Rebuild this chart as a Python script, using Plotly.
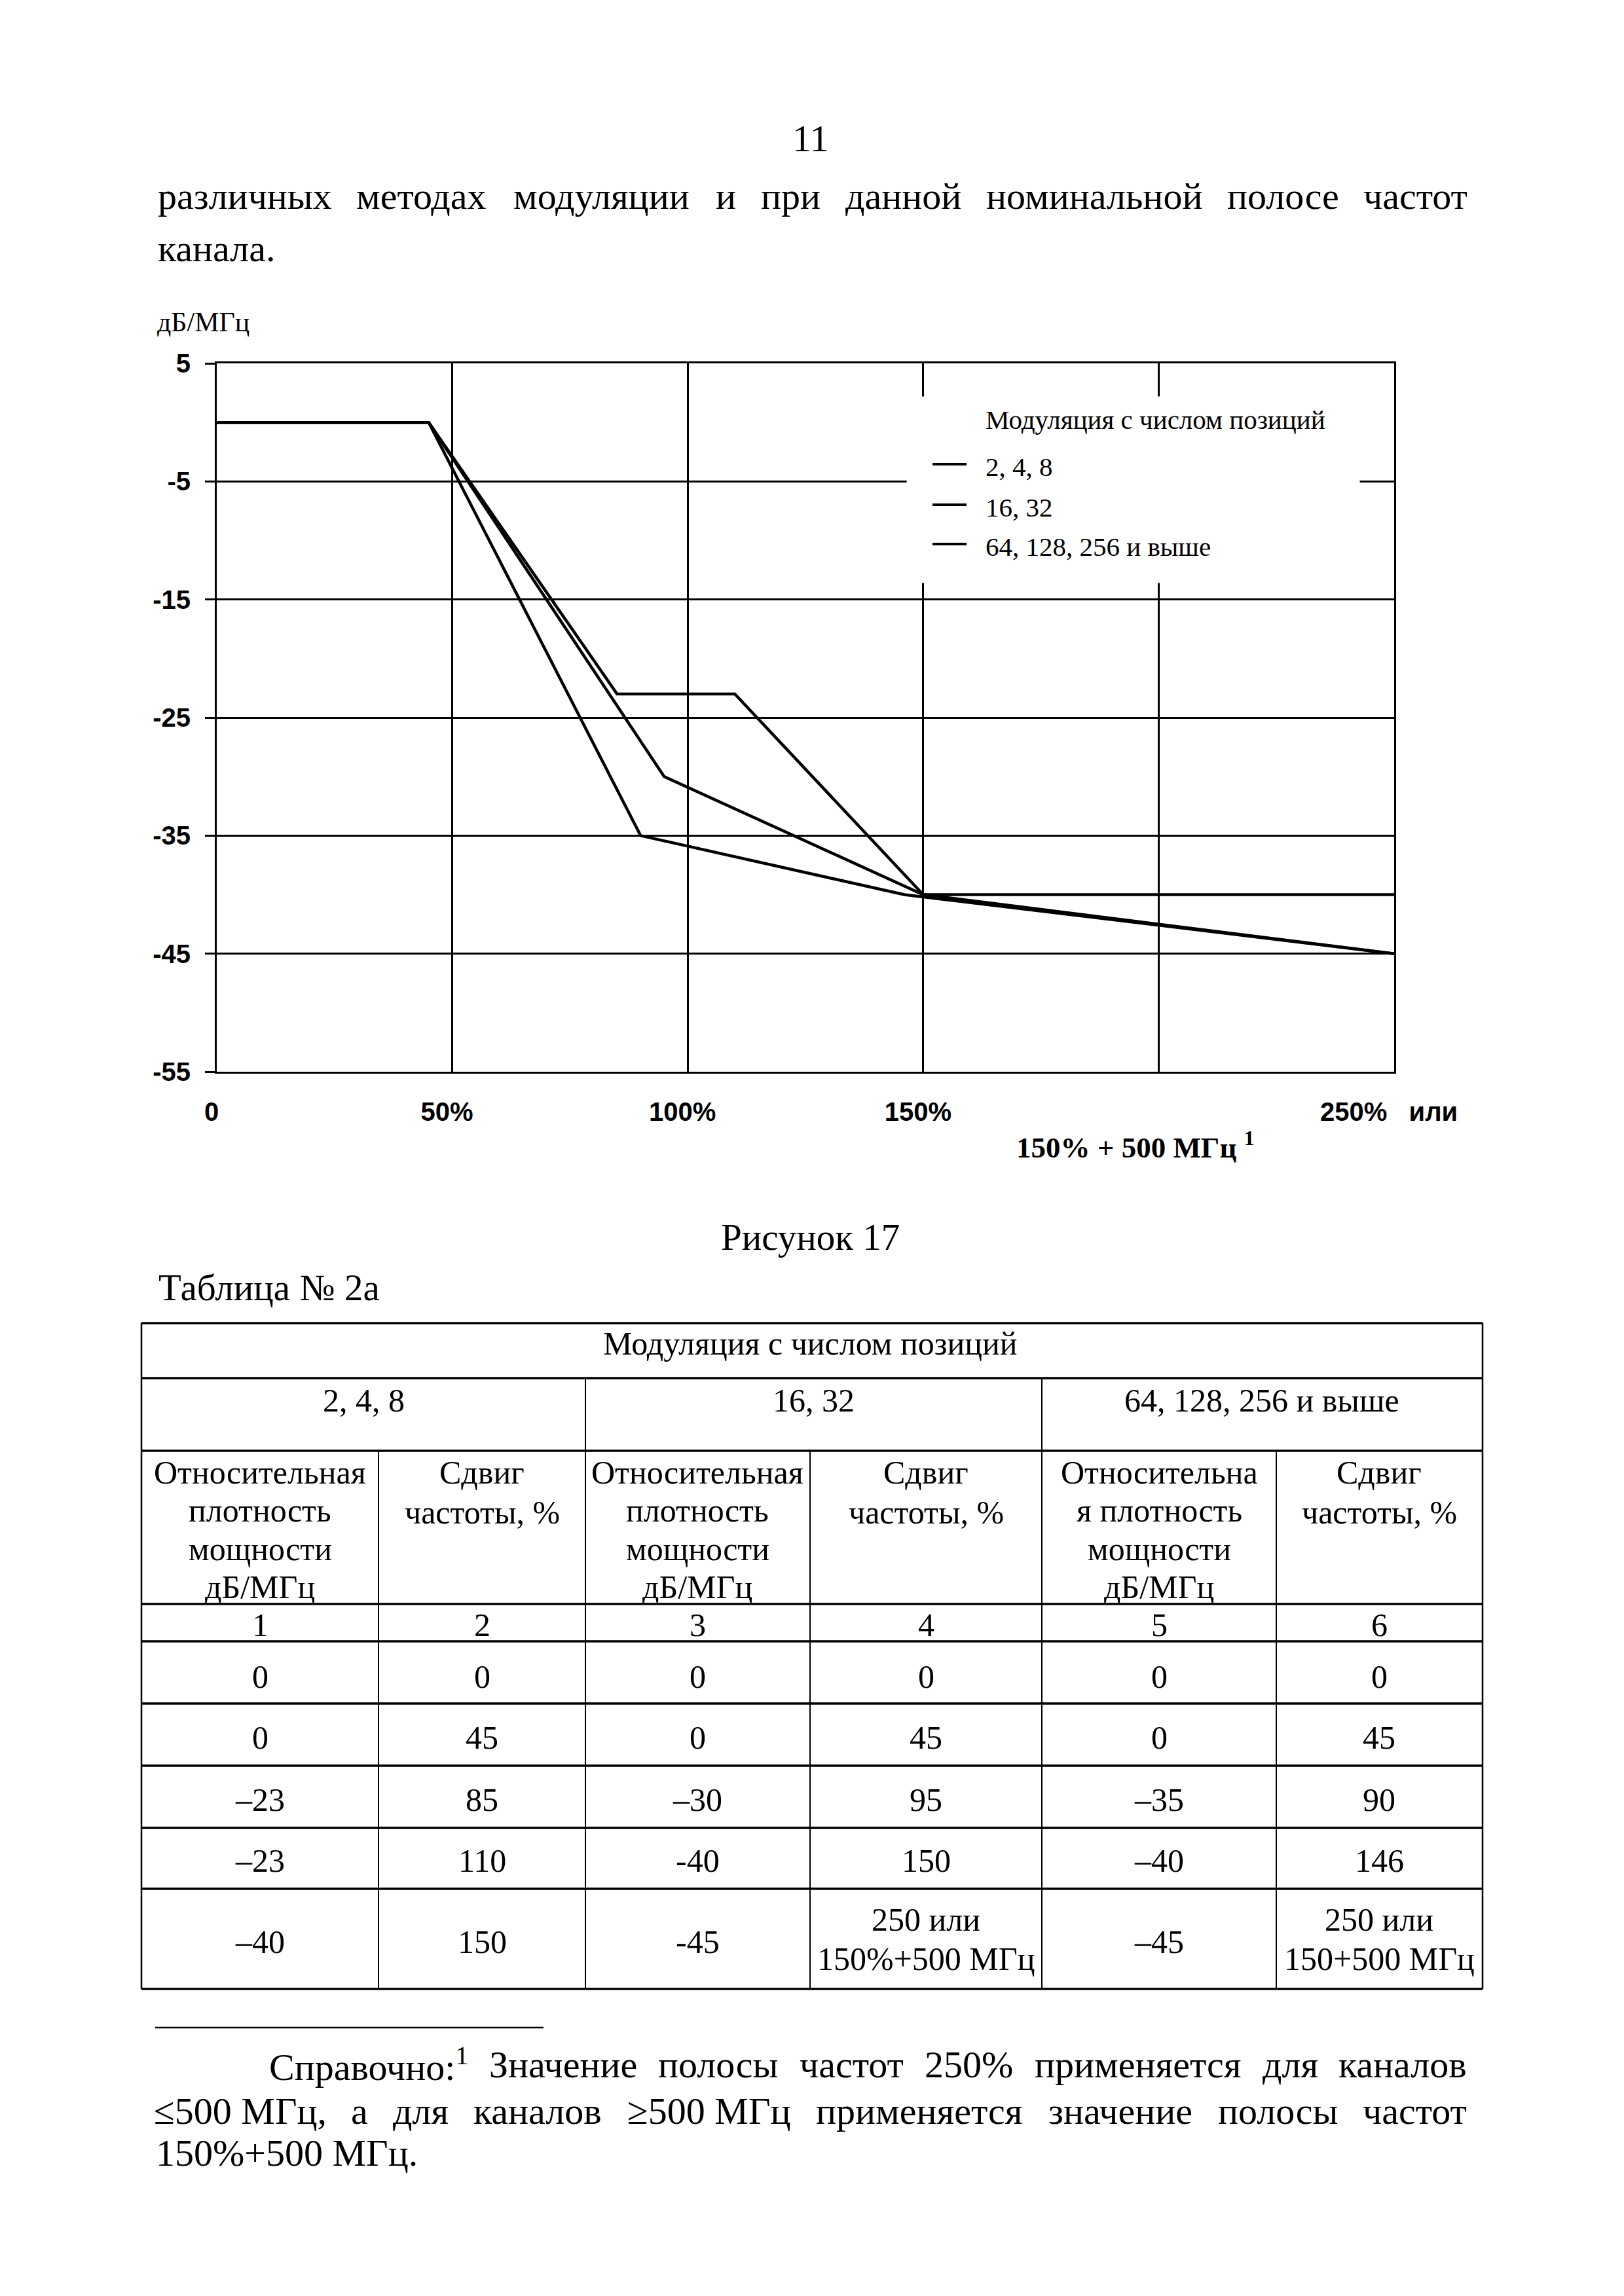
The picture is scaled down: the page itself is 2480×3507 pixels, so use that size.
import plotly.graph_objects as go

# ---------------- data ----------------
series_names = ["2, 4, 8", "16, 32", "64, 128, 256 и выше"]
shift_248 = [0, 45, 85, 110, 150, 250]
level_248 = [0, 0, -23, -23, -40, -40]
shift_1632 = [0, 45, 95, 150, 250]
level_1632 = [0, 0, -30, -40, -45]
shift_64 = [0, 45, 90, 146, 250]
level_64 = [0, 0, -35, -40, -45]

y_tick_vals = [5, -5, -15, -25, -35, -45, -55]
y_tick_text = ["5", "-5", "-15", "-25", "-35", "-45", "-55"]
x_tick_vals = [0, 50, 100, 150, 250]
x_tick_text = ["0", "50%", "100%", "150%", "250%   или"]
x_minor_grid = [200]

table_rows = 5
table_dash = [["–"] * 5, ["–", "–", "–", "-", "-"], ["–"] * 5]
wide_shift_label = [None, ("250 или", "150%+500 МГц"), ("250 или", "150+500 МГц")]
level_header = [["Относительная", "плотность", "мощности", "дБ/МГц"],
                ["Относительная", "плотность", "мощности", "дБ/МГц"],
                ["Относительна", "я плотность", "мощности", "дБ/МГц"]]
shift_header = ["Сдвиг", "частоты, %"]

# ---------------- layout helpers ----------------
W, H = 2480, 3507
PL, PR, PT, PB = 331, 2129, 555, 1637
SERIF = "Liberation Serif, Times New Roman, serif"
SANS = "Liberation Sans, Arial, sans-serif"


def fx(px):
    return (px - PL) / (PR - PL)


def fy(py):
    return (PB - py) / (PB - PT)


annotations = []
shapes = []


def text(s, x, baseline, size, anchor="center", family=SERIF, bold=False):
    annotations.append(dict(
        text=s, x=fx(x), y=fy(baseline - 0.32 * size), xref="paper", yref="paper",
        xanchor=anchor, yanchor="middle", showarrow=False, borderpad=0,
        font=dict(family=family, size=size, color="black",
                  weight="bold" if bold else "normal")))


def line(x0, y0, x1, y1, w):
    shapes.append(dict(type="line", xref="paper", yref="paper",
                       x0=fx(x0), y0=fy(y0), x1=fx(x1), y1=fy(y1),
                       line=dict(color="black", width=w), layer="above"))


CW = {"а": .444, "б": .5, "в": .472, "г": .41, "д": .5, "е": .444, "ж": .691, "з": .395,
      "и": .535, "й": .535, "к": .486, "л": .499, "м": .632, "н": .535, "о": .5, "п": .535,
      "р": .5, "с": .444, "т": .437, "у": .5, "ф": .648, "х": .5, "ц": .535, "ч": .503,
      "ш": .77, "щ": .77, "ъ": .517, "ы": .672, "ь": .456, "э": .429, "ю": .747, "я": .479,
      " ": .25, ".": .25, ",": .25, ":": .278, "%": .833, "+": .564, "≤": .549, "≥": .549,
      "З": .501, "С": .667, "М": .889, "Г": .578}


def est(word):
    w = word.replace("<sup>1</sup>", "")
    extra = 0.3 if "<sup>" in word else 0
    return sum(CW.get(ch, 0.7 if ch.isupper() else 0.5) for ch in w) + extra


def justify(words, x0, x1, baseline, size):
    widths = [est(w) * size for w in words]
    gap = (x1 - x0 - sum(widths)) / (len(words) - 1)
    x = x0
    for i, (w, wd) in enumerate(zip(words, widths)):
        if i == 0:
            text(w, x0, baseline, size, anchor="left")
        elif i == len(words) - 1:
            text(w, x1, baseline, size, anchor="right")
        else:
            text(w, x + wd / 2, baseline, size)
        x += wd + gap


# ---------------- page text ----------------
BODY = 58
text("11", 1238, 230, BODY)
justify("различных методах модуляции и при данной номинальной полосе частот".split(),
        240, 2242, 318, BODY)
text("канала.", 240, 398, BODY, anchor="left")

# y-axis unit
text("дБ/МГц", 239, 505, 42, anchor="left")

# ---------------- chart ----------------
fig = go.Figure()
for name, xs, ys in zip(series_names, [shift_248, shift_1632, shift_64],
                        [level_248, level_1632, level_64]):
    fig.add_trace(go.Scatter(x=xs, y=ys, mode="lines", name=name, showlegend=False,
                             line=dict(color="black", width=4.5)))

# legend (white box masking the grid)
shapes.append(dict(type="rect", xref="x", yref="y", x0=146.5, x1=242.7, y0=-13.6, y1=2.2,
                   fillcolor="white", line=dict(width=0), layer="above"))
LEG = 41
text("Модуляция с числом позиций", 1504, 654, LEG, anchor="left")
for name, base in zip(series_names, [726, 788, 848]):
    line(1424, base - 17, 1476, base - 17, 4)
    text(name, 1504, base, LEG, anchor="left")

# x-axis caption
annotations.append(dict(text="150% + 500 МГц <sup>1</sup>", x=fx(1733), y=fy(1764 - 0.32 * 45),
                        xref="paper", yref="paper", xanchor="center", yanchor="middle",
                        showarrow=False, borderpad=0,
                        font=dict(family=SERIF, size=45, color="black", weight="bold")))

# ---------------- figure caption & table ----------------
text("Рисунок 17", 1237, 1908, 57)
text("Таблица № 2а", 241, 1985, 57, anchor="left")

TF = 50
TL, TR = 216, 2264
h_lines = [2021, 2105, 2216, 2450, 2507, 2602, 2697, 2792, 2885, 3038]
for yy in h_lines:
    line(TL, yy, TR, yy, 3.5)
line(TL, 2021, TL, 3038, 2.5)
line(TR, 2021, TR, 3038, 2.5)
for xx in [894, 1591]:
    line(xx, 2105, xx, 3038, 2)
for xx in [578, 1237, 1949]:
    line(xx, 2216, xx, 3038, 2)

text("Модуляция с числом позиций", 1237, 2068, TF)
group_centers = [555, 1242, 1927]
col_centers = [397, 736, 1065, 1414, 1770, 2106]
header_bases = [2265, 2323, 2382, 2440]
shift_bases = [2265, 2326]
row_bases = [2577, 2670, 2765, 2858, 2982]
two_line_bases = [2948, 3008]

all_shift = [shift_248, shift_1632, shift_64]
all_level = [level_248, level_1632, level_64]
for s in range(3):
    text(series_names[s], group_centers[s], 2155, TF)
    cl, cs = col_centers[2 * s], col_centers[2 * s + 1]
    for t, b in zip(level_header[s], header_bases):
        text(t, cl, b, TF)
    for t, b in zip(shift_header, shift_bases):
        text(t, cs, b, TF)
    text(str(2 * s + 1), cl, 2498, TF)
    text(str(2 * s + 2), cs, 2498, TF)
    for r in range(table_rows):
        lv = all_level[s][r]
        lv_txt = "0" if lv == 0 else table_dash[s][r] + str(abs(lv))
        text(lv_txt, cl, row_bases[r], TF)
        sh = all_shift[s][r]
        if sh == 250 and wide_shift_label[s]:
            for t, b in zip(wide_shift_label[s], two_line_bases):
                text(t, cs, b, TF)
        else:
            text(str(sh), cs, row_bases[r], TF)

# ---------------- footnote ----------------
line(237, 3097, 830, 3097, 2.5)
justify(["Справочно:<sup>1</sup>", "Значение", "полосы", "частот", "250%", "применяется",
         "для", "каналов"], 410, 2241, 3172, BODY)
justify(["≤500 МГц,", "а", "для", "каналов", "≥500 МГц", "применяется", "значение",
         "полосы", "частот"], 234, 2241, 3243, BODY)
text("150%+500 МГц.", 237, 3307, BODY, anchor="left")

# ---------------- layout ----------------
axis_font = dict(family=SANS, size=40, color="black", weight="bold")
fig.update_layout(
    width=W, height=H, autosize=False,
    margin=dict(l=PL, r=W - PR, t=PT, b=H - PB, pad=0),
    paper_bgcolor="white", plot_bgcolor="white",
    showlegend=False,
    xaxis=dict(range=[0, 250], tickmode="array", tickvals=x_tick_vals, ticktext=x_tick_text,
               showgrid=True, gridcolor="black", gridwidth=3, zeroline=False,
               showline=True, linecolor="black", linewidth=3, mirror=True,
               ticks="", tickfont=axis_font, ticklabelstandoff=24, ticklabelshift=-8,
               minor=dict(tickmode="array", tickvals=x_minor_grid, showgrid=True,
                          gridcolor="black", gridwidth=3, ticks="")),
    yaxis=dict(range=[-55, 5], tickmode="array", tickvals=y_tick_vals, ticktext=y_tick_text,
               showgrid=True, gridcolor="black", gridwidth=3, zeroline=False,
               showline=True, linecolor="black", linewidth=3, mirror=True,
               ticks="outside", ticklen=15, tickwidth=3, tickcolor="black",
               tickfont=axis_font, ticklabelstandoff=14),
    annotations=annotations, shapes=shapes,
)

fig.write_html("out.html", config={"displayModeBar": False},
               post_script="document.body.style.margin='0';")
